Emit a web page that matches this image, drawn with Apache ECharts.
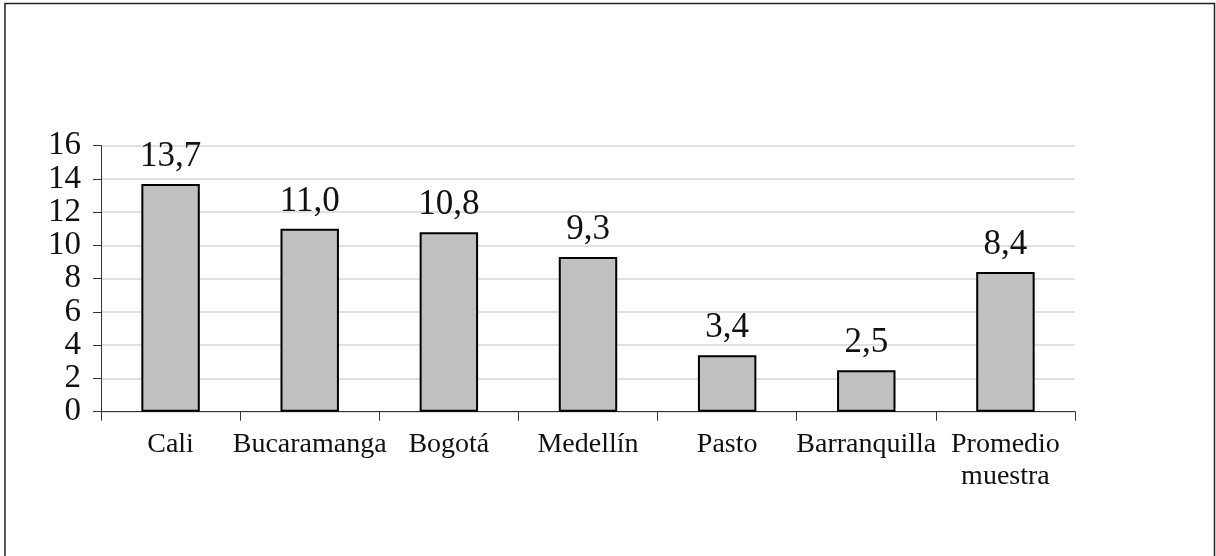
<!DOCTYPE html>
<html>
<head>
<meta charset="utf-8">
<script src="https://cdn.jsdelivr.net/npm/echarts@6/dist/echarts.min.js"></script>
<style>
html,body{margin:0;padding:0;background:#fff;}
#c{width:1216px;height:556px;}
</style>
</head>
<body>
<div id="c"></div>
<script>
const categories = ['Cali', 'Bucaramanga', 'Bogotá', 'Medellín', 'Pasto', 'Barranquilla', 'Promedio\nmuestra'];
const values = [13.7, 11.0, 10.8, 9.3, 3.4, 2.5, 8.4];
const yTicks = [0, 2, 4, 6, 8, 10, 12, 14, 16];

const FONT = '"Liberation Serif", "DejaVu Serif", serif';
const chart = echarts.init(document.getElementById('c'), null, {renderer: 'canvas'});
chart.setOption({
  animation: false,
  backgroundColor: '#fff',
  graphic: [{
    type: 'rect',
    shape: {x: 5, y: 3.5, width: 1209.5, height: 620},
    style: {fill: 'none', stroke: '#222', lineWidth: 1.5},
    silent: true
  }],
  grid: {left: 101, right: 141, top: 145.7, bottom: 144.3, containLabel: false, outerBoundsMode: 'none'},
  xAxis: {
    type: 'category',
    data: categories,
    axisLine: {lineStyle: {color: '#333', width: 1}},
    axisTick: {show: true, length: 9, lineStyle: {color: '#333'}, alignWithLabel: false},
    axisLabel: {color: '#111', fontFamily: FONT, fontSize: 28, margin: 17, lineHeight: 32, interval: 0, hideOverlap: false}
  },
  yAxis: {
    type: 'value',
    min: yTicks[0],
    max: yTicks[yTicks.length - 1],
    interval: 2,
    axisLine: {show: true, lineStyle: {color: '#333', width: 1}},
    axisTick: {show: true, inside: false, length: 8, lineStyle: {color: '#333'}},
    axisLabel: {color: '#111', fontFamily: FONT, fontSize: 33, lineHeight: 30, margin: 20,
      showMinLabel: true, showMaxLabel: true, hideOverlap: false},
    splitLine: {show: true, lineStyle: {color: '#d6d6d6', width: 1.5}}
  },
  series: [{
    type: 'bar',
    data: values,
    barWidth: '42%',
    itemStyle: {color: '#c0c0c0', borderColor: '#000', borderWidth: 2},
    label: {
      show: true,
      position: 'top',
      distance: 10,
      color: '#111',
      fontFamily: FONT,
      fontSize: 35,
      formatter: p => p.value.toFixed(1).replace('.', ',')
    }
  }]
});
</script>
</body>
</html>
